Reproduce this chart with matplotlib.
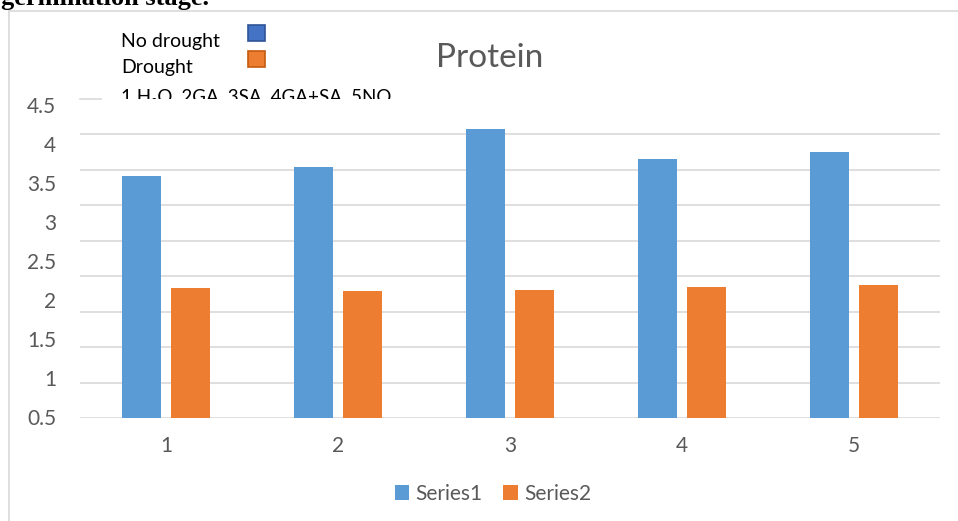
import matplotlib.pyplot as plt
from matplotlib.lines import Line2D
from matplotlib.patches import Rectangle, Patch
from matplotlib.transforms import Bbox, TransformedBbox
import numpy as np

plt.rcParams['font.family'] = ['Lato', 'DejaVu Sans']

# data
categories = [1, 2, 3, 4, 5]
series1 = [3.41, 3.54, 4.08, 3.65, 3.75]
series2 = [1.84, 1.79, 1.81, 1.85, 1.88]
grid_ticks = [0, 0.5, 1, 1.5, 2, 2.5, 3, 3.5, 4]
label_ticks = [0.5, 1, 1.5, 2, 2.5, 3, 3.5, 4, 4.5]

W, H = 958, 521
BLUE = '#5B9BD5'
ORANGE = '#ED7D31'
GREY_TXT = '#595959'
GRID = '#D9D9D9'


def fx(px):
    return px / W


def fy(py):
    return 1 - py / H


fig = plt.figure(figsize=(W / 100, H / 100), dpi=100)

# cut-off caption from the page above the chart
fig.text(fx(1), fy(4.5), 'germination stage.', fontsize=19, fontweight='bold',
         family='Liberation Serif', va='baseline', ha='left', color='black')

# chart frame (top and left edge only visible)
fig.add_artist(Line2D([fx(9), fx(958)], [fy(11), fy(11)], color=GRID, lw=1.2))
fig.add_artist(Line2D([fx(9), fx(9)], [fy(11), fy(521)], color=GRID, lw=1.2))

ax = fig.add_axes([fx(80), fy(418.3), fx(940) - fx(80), (418.3 - 99) / H])
x = np.array(categories)
w = 0.227
off = 0.1425
ax.bar(x - off, series1, w, color=BLUE, zorder=3, label='Series1')
ax.bar(x + off, series2, w, color=ORANGE, zorder=3, label='Series2')

ax.set_xlim(0.5, 5.5)
ax.set_ylim(0, 4.5)
ax.set_yticks(grid_ticks)
ax.set_yticklabels([])
ax.grid(axis='y', color=GRID, lw=1.2, zorder=0)
ax.set_xticks(categories)
ax.set_xticklabels([str(c) for c in categories])
ax.tick_params(axis='x', length=0, pad=13, labelsize=15, labelcolor=GREY_TXT)
ax.tick_params(axis='y', length=0)
for s in ax.spines.values():
    s.set_visible(False)
# short stub of the top gridline left of the text box
ax.plot([0, 21 / 860], [4.5, 4.5], color=GRID, lw=1.2,
        transform=ax.get_yaxis_transform(), clip_on=False)

# y labels (pasted scale, slightly off the gridlines)
ax2 = ax.twinx()
ax2.set_ylim(0.479, 4.577)
ax2.set_yticks(label_ticks)
ax2.set_yticklabels([f'{v:g}' for v in label_ticks])
ax2.yaxis.tick_left()
ax2.tick_params(axis='y', length=0, pad=17, labelsize=15, labelcolor=GREY_TXT)
for s in ax2.spines.values():
    s.set_visible(False)

fig.text(fx(489.5), fy(67), 'Protein', fontsize=24, color=GREY_TXT,
         ha='center', va='baseline')

# hand-made key in the top left
fig.text(fx(121), fy(47), 'No drought', fontsize=14, color='black', va='baseline')
fig.text(fx(121), fy(73), 'Drought', fontsize=14, color='black', va='baseline')
t = fig.text(fx(121), fy(102), '1 H\u2082O, 2GA, 3SA, 4GA+SA, 5NO', fontsize=13.5,
             color='black', va='baseline')
t.set_clip_box(TransformedBbox(Bbox([[0, fy(99)], [1, 1]]), fig.transFigure))
t.set_clip_on(True)
fig.add_artist(Rectangle((fx(248), fy(41)), fx(17), 16 / H, facecolor='#4472C4',
                         edgecolor='#2F5597', lw=1.2, transform=fig.transFigure))
fig.add_artist(Rectangle((fx(248), fy(66.5)), fx(17), 15 / H, facecolor='#ED7D31',
                         edgecolor='#C55A11', lw=1.2, transform=fig.transFigure))

handles = [Patch(facecolor=BLUE, label='Series1'), Patch(facecolor=ORANGE, label='Series2')]
fig.legend(handles=handles, loc='center', bbox_to_anchor=(fx(493), fy(494)), ncol=2,
           frameon=False, fontsize=15, labelcolor=GREY_TXT, handlelength=0.7,
           handleheight=0.7, handletextpad=0.3, columnspacing=1.0)

fig.savefig('out.png', dpi=100)
